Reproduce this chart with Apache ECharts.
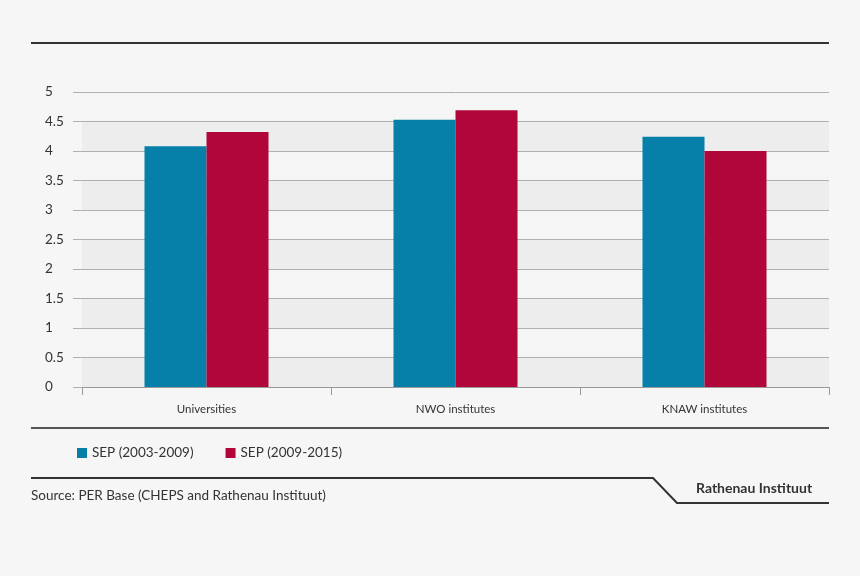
<!DOCTYPE html>
<html><head><meta charset="utf-8">
<script src="https://cdn.jsdelivr.net/npm/echarts@6/dist/echarts.min.js"></script>
<style>html,body{margin:0;padding:0;background:#f6f6f6;}#c{width:860px;height:576px;}</style>
</head><body><div id="c"></div>
<script>
var categories = ['Universities', 'NWO institutes', 'KNAW institutes'];
var sep0309 = [4.08, 4.53, 4.24];
var sep0915 = [4.32, 4.69, 4.0];
var seriesNames = ['SEP (2003-2009)', 'SEP (2009-2015)'];
var sourceText = 'Source: PER Base (CHEPS and Rathenau Instituut)';
var brandText = 'Rathenau Instituut';

var chart = echarts.init(document.getElementById('c'));
var font = 'Lato, "Open Sans", sans-serif';
chart.setOption({
  backgroundColor: '#f6f6f6',
  animation: false,
  textStyle: {fontFamily: font},
  grid: {left: 82, right: 31, top: 92, bottom: 189, containLabel: false},
  legend: {
    left: 72, top: 441, itemWidth: 10, itemHeight: 10, itemGap: 32, icon: 'rect',
    textStyle: {fontSize: 13.5, color: '#333', fontFamily: font},
    data: seriesNames
  },
  xAxis: {
    type: 'category', data: categories,
    axisLine: {lineStyle: {color: '#999', width: 1}},
    axisTick: {show: true, length: 8, lineStyle: {color: '#999'}},
    axisLabel: {fontSize: 11.5, color: '#333', margin: 16, fontFamily: font}
  },
  yAxis: {
    type: 'value', min: 0, max: 5, interval: 0.5,
    axisLine: {show: false},
    axisTick: {show: true, length: 9, lineStyle: {color: '#b0b0b0'}},
    axisLabel: {fontSize: 13.5, color: '#333', align: 'left', margin: 37, fontFamily: font,
      formatter: function (v) { return String(v); }},
    splitLine: {lineStyle: {color: '#b0b0b0', width: 1}},
    splitArea: {show: true, areaStyle: {color: ['#ededed', '#f5f5f5']}}
  },
  series: [
    {name: seriesNames[0], type: 'bar', data: sep0309, barWidth: 62, barGap: '0%',
      itemStyle: {color: '#0780a9'}},
    {name: seriesNames[1], type: 'bar', data: sep0915, barWidth: 62, barGap: '0%',
      itemStyle: {color: '#b0063a'}}
  ],
  graphic: [
    {type: 'line', shape: {x1: 31, y1: 43, x2: 829, y2: 43}, style: {stroke: '#333', lineWidth: 2}},
    {type: 'line', shape: {x1: 31, y1: 428, x2: 829, y2: 428}, style: {stroke: '#555', lineWidth: 2}},
    {type: 'polyline', shape: {points: [[31, 478], [653, 478], [677, 503], [829, 503]]}, style: {stroke: '#333', lineWidth: 2, fill: null}},
    {type: 'text', left: 31, top: 489, style: {text: sourceText, fontSize: 13.5, fill: '#333', fontFamily: font}},
    {type: 'text', left: 696, top: 481, style: {text: brandText, fontSize: 14, fontWeight: 'bold', fill: '#333', fontFamily: font}}
  ]
});
</script></body></html>
